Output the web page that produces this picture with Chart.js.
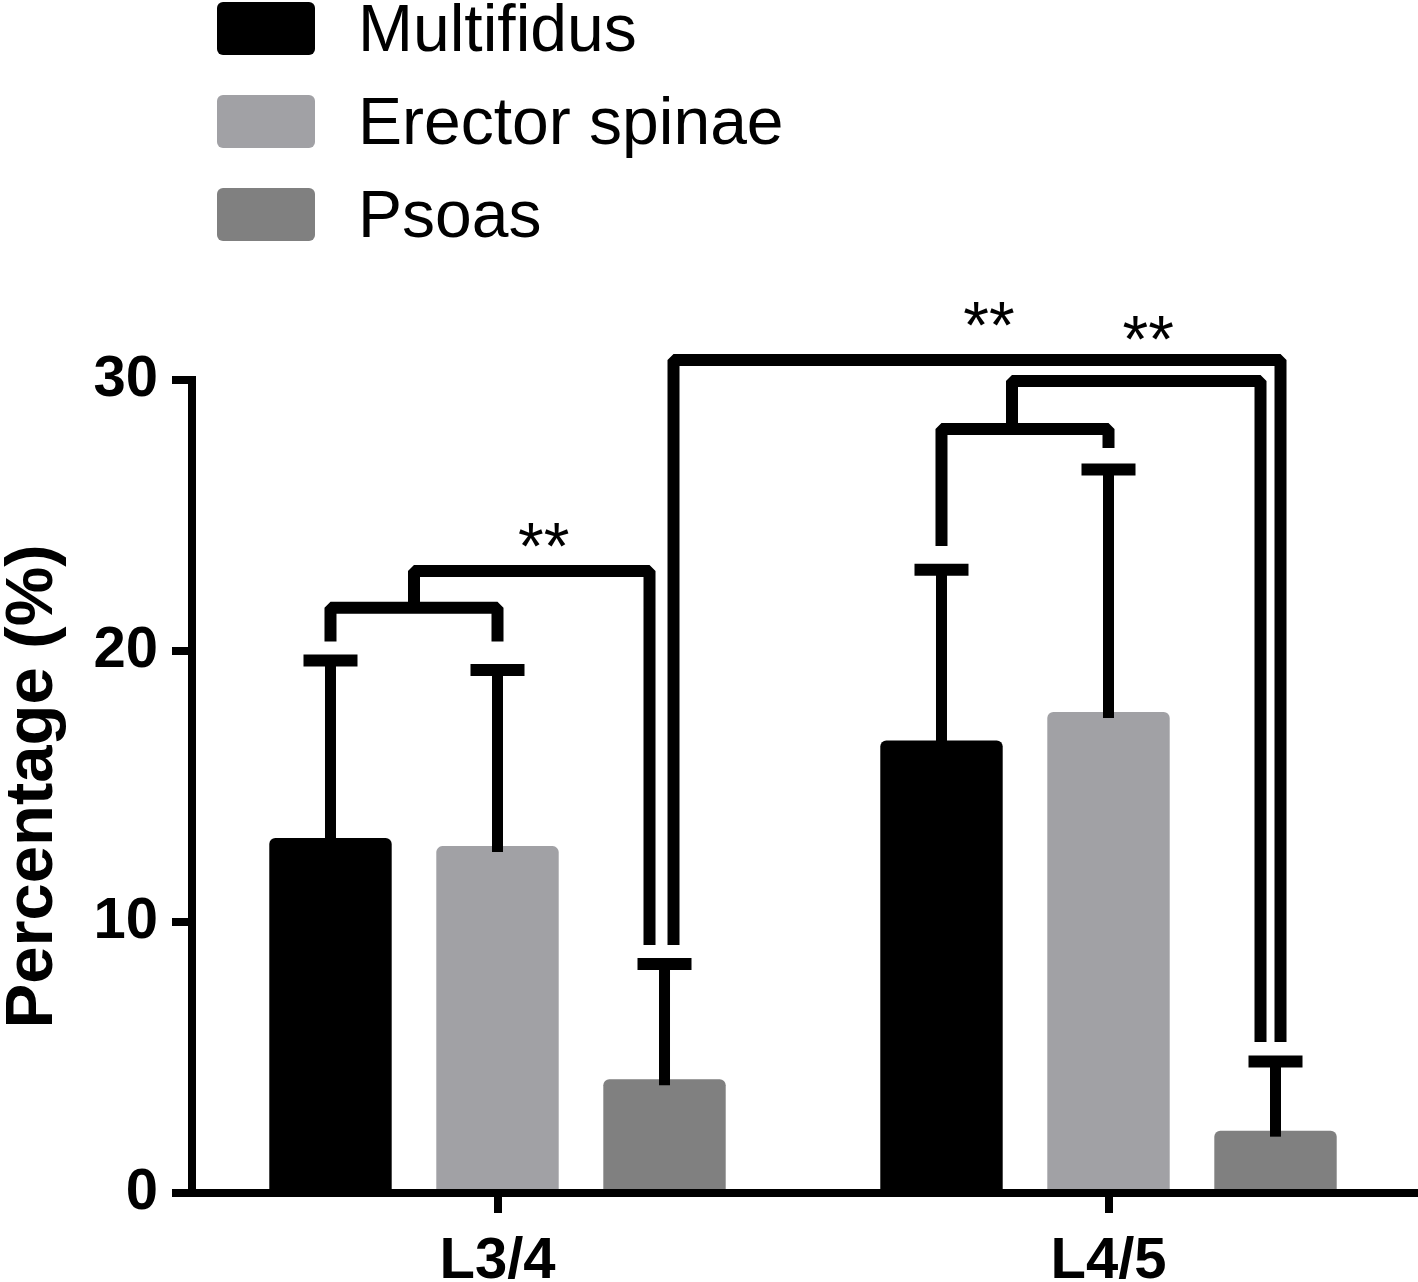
<!DOCTYPE html>
<html>
<head>
<meta charset="utf-8">
<title>Percentage by level</title>
<script src="https://cdn.jsdelivr.net/npm/chart.js@4.4.1/dist/chart.umd.min.js"></script>
<style>
  html, body { margin: 0; padding: 0; background: #fff; }
  #wrap { width: 1418px; height: 1282px; }
</style>
</head>
<body>
<div id="wrap"><canvas id="chart" width="1418" height="1282"></canvas></div>
<script>
// data
const categories = ['L3/4', 'L4/5'];
const seriesNames = ['Multifidus', 'Erector spinae', 'Psoas'];
const multifidus = [13.1, 16.7];
const erectorSpinae = [12.8, 17.75];
const psoas = [4.2, 2.3];
const multifidusSD = [6.55, 6.3];
const erectorSpinaeSD = [6.5, 8.95];
const psoasSD = [4.25, 2.55];
const yTicks = [0, 10, 20, 30];
const seriesColors = ['#000000', '#a1a1a5', '#808080'];

// significance brackets (heights in % units)
const brackets = [
  { from: { bar: [0, 0] }, to: { bar: [1, 0] }, top: 21.6, leftEnd: 20.35, rightEnd: 20.35, stars: '' },
  { from: { mid: [[0, 0], [1, 0]] }, to: { bar: [2, 0], dx: -15 }, top: 22.95, leftEnd: 21.6, rightEnd: 9.15, stars: '**', starLift: 2 },
  { from: { bar: [2, 0], dx: 9 }, to: { bar: [2, 1], dx: 5 }, top: 30.74, leftEnd: 9.15, rightEnd: 5.57, stars: '**', starLift: 12 },
  { from: { bar: [0, 1] }, to: { bar: [1, 1] }, top: 28.19, leftEnd: 23.87, rightEnd: 27.49, stars: '' },
  { from: { mid: [[0, 1], [1, 1]], dx: -13 }, to: { bar: [2, 1], dx: -15 }, top: 29.96, leftEnd: 28.19, rightEnd: 5.57, stars: '**', starLift: 19 }
];

const FONT = '"Liberation Sans", Arial, sans-serif';
const sds = [multifidusSD, erectorSpinaeSD, psoasSD];

const errorBars = {
  id: 'errorBars',
  afterDatasetsDraw(chart) {
    const ctx = chart.ctx;
    const y = chart.scales.y;
    ctx.save();
    ctx.strokeStyle = '#000';
    chart.data.datasets.forEach((ds, i) => {
      chart.getDatasetMeta(i).data.forEach((bar, j) => {
        const cy = y.getPixelForValue(ds.data[j] + sds[i][j]);
        ctx.lineWidth = 11;
        ctx.beginPath();
        ctx.moveTo(bar.x, bar.y + 6);
        ctx.lineTo(bar.x, cy);
        ctx.stroke();
        ctx.lineWidth = 12;
        ctx.beginPath();
        ctx.moveTo(bar.x - 27, cy);
        ctx.lineTo(bar.x + 27, cy);
        ctx.stroke();
      });
    });
    ctx.restore();
  }
};

const sigBrackets = {
  id: 'sigBrackets',
  afterDraw(chart) {
    const ctx = chart.ctx;
    const y = chart.scales.y;
    const barX = (a) => chart.getDatasetMeta(a[0]).data[a[1]].x;
    const anchorX = (p) => (p.bar ? barX(p.bar) : (barX(p.mid[0]) + barX(p.mid[1])) / 2) + (p.dx || 0);
    ctx.save();
    ctx.strokeStyle = '#000';
    ctx.lineWidth = 12;
    ctx.lineJoin = 'bevel';
    ctx.lineCap = 'butt';
    brackets.forEach(b => {
      const x1 = anchorX(b.from), x2 = anchorX(b.to);
      const yt = y.getPixelForValue(b.top);
      ctx.beginPath();
      ctx.moveTo(x1, y.getPixelForValue(b.leftEnd));
      ctx.lineTo(x1, yt);
      ctx.lineTo(x2, yt);
      ctx.lineTo(x2, y.getPixelForValue(b.rightEnd));
      ctx.stroke();
      if (b.stars) {
        ctx.fillStyle = '#000';
        ctx.font = '66px ' + FONT;
        ctx.textAlign = 'center';
        ctx.textBaseline = 'alphabetic';
        ctx.fillText(b.stars, (x1 + x2) / 2 + 12, yt - b.starLift);
      }
    });
    ctx.restore();
  }
};

const boxLegend = {
  id: 'boxLegend',
  afterDraw(chart) {
    const ctx = chart.ctx;
    ctx.save();
    chart.data.datasets.forEach((ds, i) => {
      const top = 2 + i * 93;
      ctx.fillStyle = ds.backgroundColor;
      ctx.beginPath();
      ctx.roundRect(217, top, 98, 53, 6);
      ctx.fill();
      ctx.fillStyle = '#000';
      ctx.font = '66px ' + FONT;
      ctx.textAlign = 'left';
      ctx.textBaseline = 'alphabetic';
      ctx.fillText(ds.label, 358, top + 26 + 23);
    });
    ctx.restore();
  }
};

new Chart(document.getElementById('chart'), {
  type: 'bar',
  data: {
    labels: categories,
    datasets: [multifidus, erectorSpinae, psoas].map((vals, i) => ({
      label: seriesNames[i],
      data: vals,
      backgroundColor: seriesColors[i],
      borderWidth: 0,
      borderRadius: { topLeft: 6, topRight: 6, bottomLeft: 0, bottomRight: 0 },
      borderSkipped: 'bottom',
      categoryPercentage: 0.82,
      barPercentage: 0.733
    }))
  },
  options: {
    responsive: false,
    animation: false,
    layout: { padding: { top: 380, left: 0, right: 4, bottom: 0 } },
    plugins: {
      legend: { display: false },
      tooltip: { enabled: false }
    },
    scales: {
      x: {
        afterFit: s => { s.height = 89; },
        border: { color: '#000', width: 8 },
        grid: { offset: false, drawOnChartArea: false, tickLength: 20, lineWidth: 8, color: '#000' },
        ticks: { color: '#000', padding: 14, font: { family: FONT, size: 58, weight: 'bold' } }
      },
      y: {
        min: 0,
        max: 30,
        afterFit: s => { s.width = 192; },
        afterBuildTicks: s => { s.ticks = yTicks.map(v => ({ value: v })); },
        border: { color: '#000', width: 8 },
        grid: { drawOnChartArea: false, tickLength: 20, lineWidth: 8, color: '#000' },
        ticks: { color: '#000', padding: 14, font: { family: FONT, size: 58, weight: 'bold' } },
        title: {
          display: true,
          text: 'Percentage (%)',
          color: '#000',
          padding: 0,
          font: { family: FONT, size: 67, weight: 'bold', lineHeight: 1 }
        }
      }
    }
  },
  plugins: [errorBars, sigBrackets, boxLegend]
});
</script>
</body>
</html>
